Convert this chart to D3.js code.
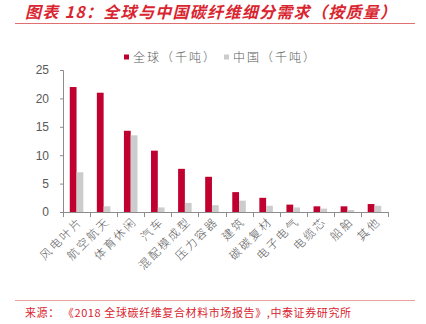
<!DOCTYPE html>
<html>
<head>
<meta charset="utf-8">
<script src="https://cdn.jsdelivr.net/npm/d3@7/dist/d3.min.js"></script>
<style>
  html, body { margin: 0; padding: 0; background: #fff; }
  svg { display: block; font-family: "Noto Sans CJK SC", "Noto Sans", sans-serif; }
</style>
</head>
<body>
<svg id="chart" width="426" height="324"></svg>
<script>
// Carbon fibre demand by application segment (thousand tonnes)
const categories = ["风电叶片", "航空航天", "体育休闲", "汽车", "混配模成型", "压力容器",
                    "建筑", "碳碳复材", "电子电气", "电缆芯", "船舶", "其他"];
const globalValues = [22.0, 21.0, 14.3, 10.8, 7.6, 6.2, 3.5, 2.5, 1.3, 1.0, 1.0, 1.4];
const chinaValues  = [7.0, 1.0, 13.5, 0.8, 1.6, 1.2, 2.0, 1.1, 0.8, 0.6, 0.35, 1.1];
const seriesNames = ["全球（千吨）", "中国（千吨）"];
const yTicks = [0, 5, 10, 15, 20, 25];

const titleText = "图表 18：全球与中国碳纤维细分需求（按质量）";
const sourceText = "来源： 《2018 全球碳纤维复合材料市场报告》,中泰证券研究所";

const RED = "#C0002F";
const GREY = "#CCCCCC";
const ACCENT = "#D9252F";

const svg = d3.select("#chart");
const margin = { left: 63, right: 38, top: 70, bottom: 112 };
const W = 426, H = 324;
const plotW = W - margin.left - margin.right;
const plotH = H - margin.top - margin.bottom;

// Header
svg.append("text")
  .attr("x", 25).attr("y", 18)
  .attr("fill", ACCENT)
  .attr("font-size", 16)
  .attr("font-weight", "bold")
  .attr("font-style", "italic")
  .attr("letter-spacing", 1.3)
  .text(titleText);
svg.append("line")
  .attr("x1", 15).attr("x2", 415).attr("y1", 23.5).attr("y2", 23.5)
  .attr("stroke", "#E07070").attr("stroke-width", 1);

// Footer
svg.append("line")
  .attr("x1", 15).attr("x2", 415).attr("y1", 300.5).attr("y2", 300.5)
  .attr("stroke", "#EBA0A0").attr("stroke-width", 1);
svg.append("text")
  .attr("x", 25).attr("y", 317)
  .attr("fill", ACCENT)
  .attr("font-size", 11)
  .attr("letter-spacing", 0.6)
  .text(sourceText);

// Scales
const x0 = d3.scaleBand().domain(categories).range([0, plotW]).paddingInner(0.5).paddingOuter(0.25);
const x1 = d3.scaleBand().domain([0, 1]).range([0, x0.bandwidth()]);
const y = d3.scaleLinear().domain([0, 25]).range([plotH, 0]);

const g = svg.append("g").attr("transform", `translate(${margin.left},${margin.top})`);

// Bars
const groups = g.selectAll("g.cat")
  .data(categories.map((c, i) => ({ c, vals: [globalValues[i], chinaValues[i]] })))
  .join("g")
  .attr("class", "cat")
  .attr("transform", d => `translate(${x0(d.c)},0)`);
groups.selectAll("rect")
  .data(d => d.vals.map((v, k) => ({ v, k })))
  .join("rect")
  .attr("x", d => x1(d.k))
  .attr("width", x1.bandwidth())
  .attr("y", d => y(d.v))
  .attr("height", d => plotH - y(d.v))
  .attr("fill", d => d.k === 0 ? RED : GREY);

// Y axis
const yAxis = g.append("g")
  .call(d3.axisLeft(y).tickValues(yTicks).tickSize(3).tickPadding(11));
yAxis.select(".domain").attr("stroke", "#8C8C8C");
yAxis.selectAll(".tick line").attr("stroke", "#8C8C8C");
yAxis.selectAll(".tick text")
  .attr("fill", "#595959")
  .attr("font-size", 12)
  .attr("font-family", "Liberation Sans, Arial, sans-serif");

// X axis: ticks sit on category boundaries
const xAxisG = g.append("g").attr("transform", `translate(0,${plotH})`);
xAxisG.append("line")
  .attr("x1", 0).attr("x2", plotW).attr("y1", 0.5).attr("y2", 0.5)
  .attr("stroke", "#8C8C8C");
const step = x0.step();
xAxisG.selectAll("line.tk")
  .data(d3.range(categories.length + 1))
  .join("line")
  .attr("class", "tk")
  .attr("x1", i => Math.round(i * step) + 0.5)
  .attr("x2", i => Math.round(i * step) + 0.5)
  .attr("y1", 0).attr("y2", 5)
  .attr("stroke", "#8C8C8C");
xAxisG.selectAll("text.lbl")
  .data(categories)
  .join("text")
  .attr("class", "lbl")
  .attr("text-anchor", "end")
  .attr("fill", "#595959")
  .attr("font-size", 11.5)
  .attr("font-weight", 300)
  .attr("letter-spacing", 2.2)
  .attr("transform", d => `translate(${x0(d) + x0.bandwidth() / 2 + 7},${10}) rotate(-45)`)
  .text(d => d);

// Legend
const legend = svg.append("g").attr("transform", "translate(124,57)");
const legendX = [0, 100];
seriesNames.forEach((name, k) => {
  legend.append("rect")
    .attr("x", legendX[k]).attr("y", -2.5)
    .attr("width", 5).attr("height", 5)
    .attr("fill", k === 0 ? RED : GREY);
  legend.append("text")
    .attr("x", legendX[k] + 9).attr("y", 4.5)
    .attr("fill", "#595959")
    .attr("font-size", 12)
    .attr("font-weight", 300)
    .attr("letter-spacing", 2)
    .text(name);
});
</script>
</body>
</html>
